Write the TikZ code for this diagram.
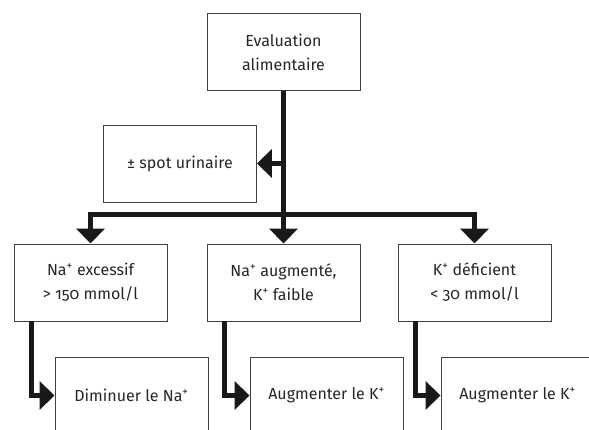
\documentclass[tikz,border=0pt]{standalone}
\usepackage{fontspec}
\setmainfont{Fira Sans}[Numbers=OldStyle]
\usetikzlibrary{arrows.meta}

\begin{document}
\begin{tikzpicture}[x=1pt, y=-1pt,
    box/.style={draw=black!75, line width=0.9pt, minimum width=153pt, minimum height=77pt,
        align=center, inner sep=0pt, font=\fontsize{16}{24}\selectfont, text=black!85},
    arr/.style={line width=5pt, draw=black!90, line join=miter,
        -{Triangle[width=28pt, length=15pt]}}]
    % fixed frame (bottom row is cut off)
    \clip (0,0) rectangle (589,430);

    % top
    \node[box] (eval) at (283.5,52) {Evaluation\\alimentaire};
    \node[box] (spot) at (180,163.5) {± spot urinaire};

    % middle row
    \node[box] (na) at (90.5,282.5) {Na\textsuperscript{+} excessif\\> 150 mmol/l};
    \node[box] (nak) at (283.5,282.5) {Na\textsuperscript{+} augmenté,\\K\textsuperscript{+} faible};
    \node[box] (k) at (474.5,282.5) {K\textsuperscript{+} déficient\\< 30 mmol/l};

    % bottom row
    \node[box] (dna) at (131.5,395.5) {Diminuer le Na\textsuperscript{+}};
    \node[box] (ak1) at (326.5,395.5) {Augmenter le K\textsuperscript{+}};
    \node[box] (ak2) at (517.5,395.5) {Augmenter le K\textsuperscript{+}};

    % connectors
    \coordinate (bar) at (283.5,215);
    \draw[arr] (eval.south) -- (nak.north);
    \draw[arr] (eval.south |- spot.east) -- (spot.east);
    \draw[arr] (bar) -| (na.north);
    \draw[arr] (bar) -| (k.north);
    \draw[arr] ([xshift=18pt]na.south west) |- (dna.west);
    \draw[arr] ([xshift=18pt]nak.south west) |- (ak1.west);
    \draw[arr] ([xshift=18pt]k.south west) |- (ak2.west);
\end{tikzpicture}
\end{document}
